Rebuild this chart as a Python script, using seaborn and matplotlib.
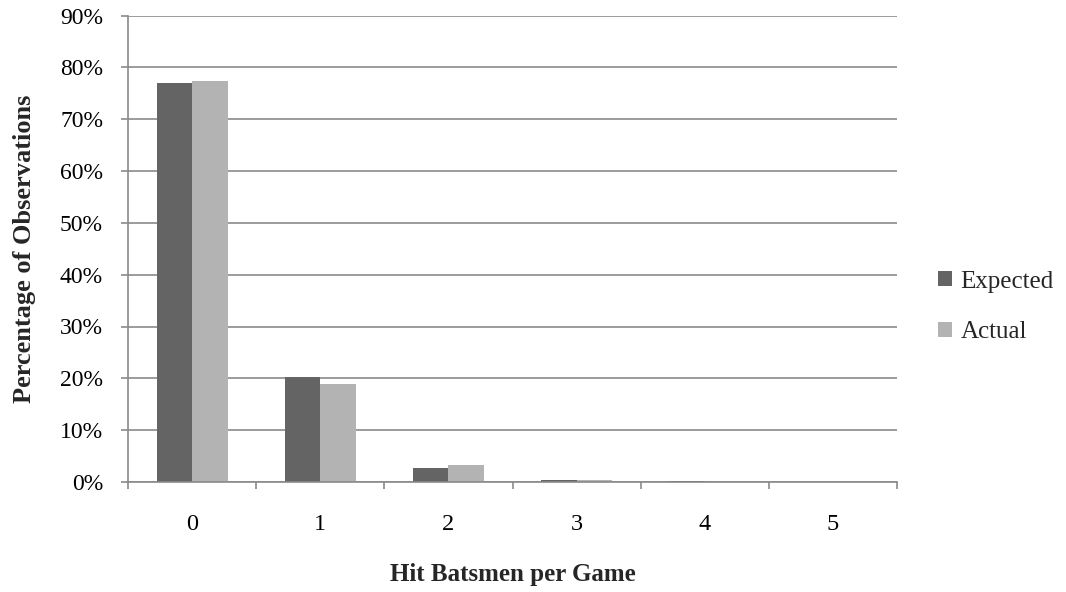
import matplotlib
matplotlib.use("Agg")
import matplotlib.pyplot as plt
import seaborn as sns
import pandas as pd
import numpy as np
from matplotlib.patches import Patch
from matplotlib.ticker import FixedLocator, FuncFormatter

# ---- data ----
categories = ["0", "1", "2", "3", "4", "5"]
series_names = ["Expected", "Actual"]
expected = [77.0, 20.2, 2.75, 0.45, 0.1, 0.05]
actual = [77.4, 18.9, 3.25, 0.4, 0.08, 0.03]
y_ticks = [0, 10, 20, 30, 40, 50, 60, 70, 80, 90]
x_title = "Hit Batsmen per Game"
y_title = "Percentage of Observations"

colors = ["#646464", "#b3b3b3"]
grid_col = "#8a8a8a"

df = pd.DataFrame({
    "cat": categories * 2,
    "value": expected + actual,
    "series": [series_names[0]] * len(categories) + [series_names[1]] * len(categories),
})

sns.set_theme(style="white")
plt.rcParams["font.family"] = ["Liberation Serif", "DejaVu Serif"]

W, H = 1066, 592
fig = plt.figure(figsize=(W / 100, H / 100), dpi=100)
left, right, top, bottom = 128, 897, 15.5, 482
ax = fig.add_axes([left / W, 1 - bottom / H, (right - left) / W, (bottom - top) / H])

sns.barplot(data=df, x="cat", y="value", hue="series", hue_order=series_names,
            palette=colors, width=0.555, saturation=1, edgecolor="none",
            legend=False, ax=ax)

ax.set_xlim(-0.5, len(categories) - 0.5)
ax.set_ylim(0, 90)
ax.set_yticks(y_ticks)
ax.yaxis.set_major_formatter(FuncFormatter(lambda v, p: f"{v:.0f}%"))
ax.grid(axis="y", color=grid_col, linewidth=1.2)
ax.set_axisbelow(True)

for s in ["top", "right"]:
    ax.spines[s].set_visible(False)
for s in ["left", "bottom"]:
    ax.spines[s].set_color(grid_col)
    ax.spines[s].set_linewidth(1.2)

ax.xaxis.set_minor_locator(FixedLocator(np.arange(-0.5, len(categories), 1.0)))
ax.tick_params(axis="x", which="major", length=0, pad=23, labelsize=17.5, colors="black")
ax.tick_params(axis="x", which="minor", length=5, width=1.2, color=grid_col, direction="out", bottom=True)
ax.tick_params(axis="y", which="major", length=5, width=1.2, color=grid_col, direction="out",
               left=True, pad=13, labelsize=17, labelcolor="black")

ax.set_xlabel("")
ax.set_ylabel("")
fig.text((left + right) / 2 / W, 1 - 575 / H, x_title, ha="center", va="center",
         fontsize=18, fontweight="bold")
fig.text(25 / W, 1 - (top + bottom) / 2 / H, y_title, ha="center", va="center",
         rotation=90, fontsize=19, fontweight="bold")

handles = [Patch(facecolor=c, edgecolor="none") for c in colors]
fig.legend(handles, series_names, loc="center left",
           bbox_to_anchor=(938 / W, 1 - 307 / H), frameon=False, fontsize=18,
           handlelength=0.55, handleheight=0.55, handletextpad=0.35,
           labelspacing=1.15, borderpad=0, borderaxespad=0)

fig.savefig("out.png", dpi=100)
